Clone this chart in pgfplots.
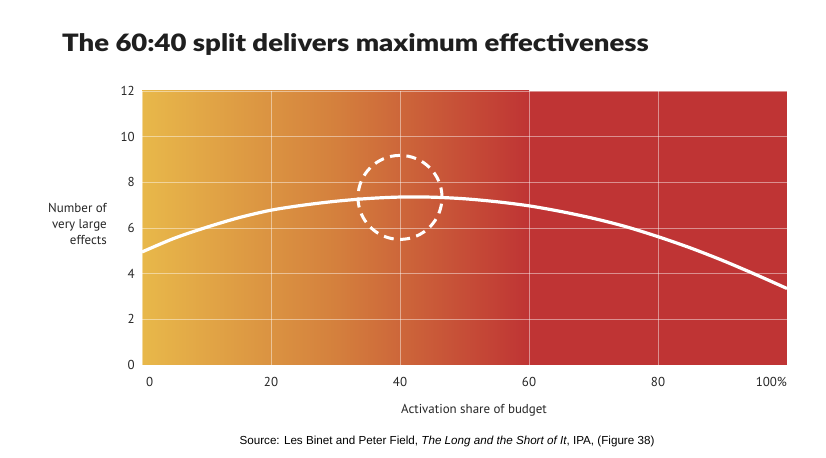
\documentclass[border=0pt]{standalone}
\usepackage{fontspec}
\usepackage{graphicx}
\setmainfont{PT Sans}
\newfontfamily\titlefont{Lato Black}
\newfontfamily\srcfont{Liberation Sans}
\usepackage{pgfplots}
\pgfplotsset{compat=1.18}
\definecolor{cyel}{HTML}{E8B84A}
\definecolor{cred}{HTML}{BF3434}
\definecolor{cmid}{HTML}{D4803D}
\begin{document}
\begin{tikzpicture}
\begin{axis}[
  set layers,
  at={(0,0)}, anchor=south west,
  scale only axis, width=645bp, height=274bp,
  xmin=0, xmax=100, ymin=0, ymax=12,
  enlargelimits=false,
  axis line style={draw=none},
  major tick length=0pt,
  xtick={0,20,40,60,80,100},
  xticklabels={\makebox[0pt][l]{\hspace{4bp}0},20,40,60,80,\makebox[0pt][r]{100\%}},
  ytick={0,2,4,6,8,10,12},
  yticklabels={0,2,4,6,8,10,12},
  tick label style={font=\fontsize{13}{15}\selectfont, text=black!85},
  xticklabel style={anchor=base, inner sep=0pt, yshift=-21bp},
  yticklabel style={anchor=east, inner sep=0pt, xshift=-7bp},
  grid=major,
  major grid style={draw=white, opacity=0.45, line width=0.9bp},
]
\begin{pgfonlayer}{axis background}
\fill[left color=cyel, right color=cred, middle color=cmid] (axis cs:0,0) rectangle (axis cs:60,12);
\fill[cred] (axis cs:60,0) rectangle (axis cs:100,12);
\end{pgfonlayer}
\addplot[white, line width=3.2bp, smooth] coordinates {
(0,4.95) (5,5.55) (10,6.03) (15,6.45) (20,6.78) (25,7.0) (30,7.17) (35,7.29) (40,7.355)
(45,7.35) (50,7.28) (55,7.15) (60,6.97) (65,6.72) (70,6.42) (75,6.06) (80,5.62)
(85,5.13) (90,4.58) (95,3.98) (100,3.35)};
\draw[white, line width=3bp, dash pattern=on 10bp off 6.5bp] (axis cs:40,7.34) circle[radius=42bp];
\end{axis}
\node[anchor=east, align=right, inner sep=0pt, font=\fontsize{13}{16.5}\selectfont, text=black!85] at (-35bp,141bp) {Number of\\very large\\effects};
\node[anchor=base, inner sep=0pt, font=\fontsize{13}{15}\selectfont, text=black!85] at (332bp,-48bp) {Activation share of budget};
\node[anchor=base, inner sep=0pt, font=\srcfont\fontsize{11.7}{13}\selectfont] at (305bp,-79bp) {Source: Les Binet and Peter Field, \textit{The Long and the Short of It}, IPA, (Figure 38)};
\node[anchor=base west, inner sep=0pt, font=\titlefont\fontsize{24}{27}\selectfont, text=black!88] at (-80bp,313bp) {\scalebox{1.15}[1]{The 60:40 split delivers maximum effectiveness}};
\pgfresetboundingbox
\path[use as bounding box] (-142bp,-93bp) rectangle (684bp,365bp);
\end{tikzpicture}
\end{document}
